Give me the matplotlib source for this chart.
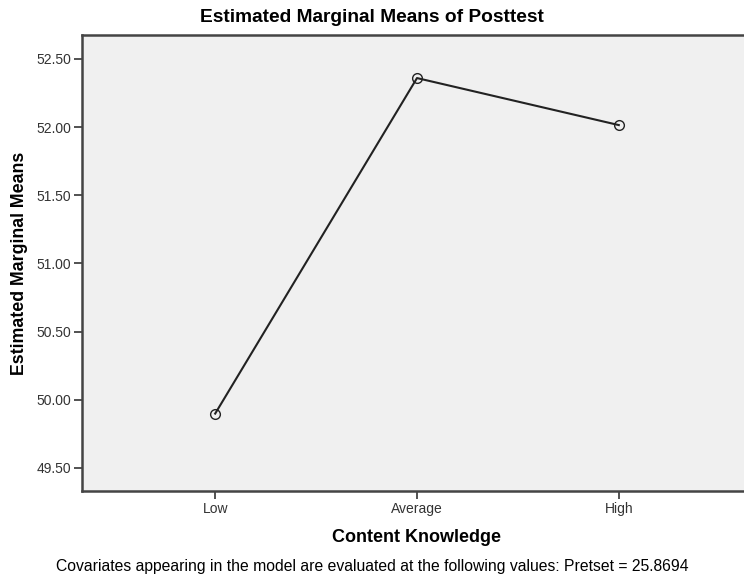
import matplotlib.pyplot as plt

plt.rcParams['font.family'] = ['Liberation Sans', 'DejaVu Sans']

# data
levels = ['Low', 'Average', 'High']
means = [49.898, 52.36, 52.015]
yticks = [49.5, 50.0, 50.5, 51.0, 51.5, 52.0, 52.5]

fig = plt.figure(figsize=(7.44, 5.82), dpi=100)
ax = fig.add_axes([82/744, 91/582, 670/744, 456/582])
ax.set_facecolor('#f0f0f0')

x = list(range(len(levels)))
ax.plot(x, means, color='#222222', linewidth=1.5, marker='o', markersize=7,
        markerfacecolor='none', markeredgecolor='#222222', markeredgewidth=1.0)

ax.set_xlim(-0.66, 2.66)
ax.set_ylim(49.33, 52.676)
ax.set_xticks(x)
ax.set_xticklabels(levels)
ax.set_yticks(yticks)
ax.set_yticklabels([f'{v:.2f}' for v in yticks])
ax.tick_params(direction='out', length=6, width=1.2, color='#333333',
               labelsize=10, labelcolor='#333333', pad=2)

for s in ax.spines.values():
    s.set_linewidth(1.8)
    s.set_color('#444444')

ax.set_xlabel('Content Knowledge', fontsize=13, fontweight='bold', labelpad=9)
ax.set_ylabel('Estimated Marginal Means', fontsize=12.8, fontweight='bold', labelpad=6)
fig.text(0.5, 1 - 18/582, 'Estimated Marginal Means of Posttest', ha='center', va='center',
         fontsize=13.8, fontweight='bold')
fig.text(0.5, 1 - 567/582,
         'Covariates appearing in the model are evaluated at the following values: Pretset = 25.8694',
         ha='center', va='center', fontsize=11.3)

fig.savefig('out.png', dpi=100)
